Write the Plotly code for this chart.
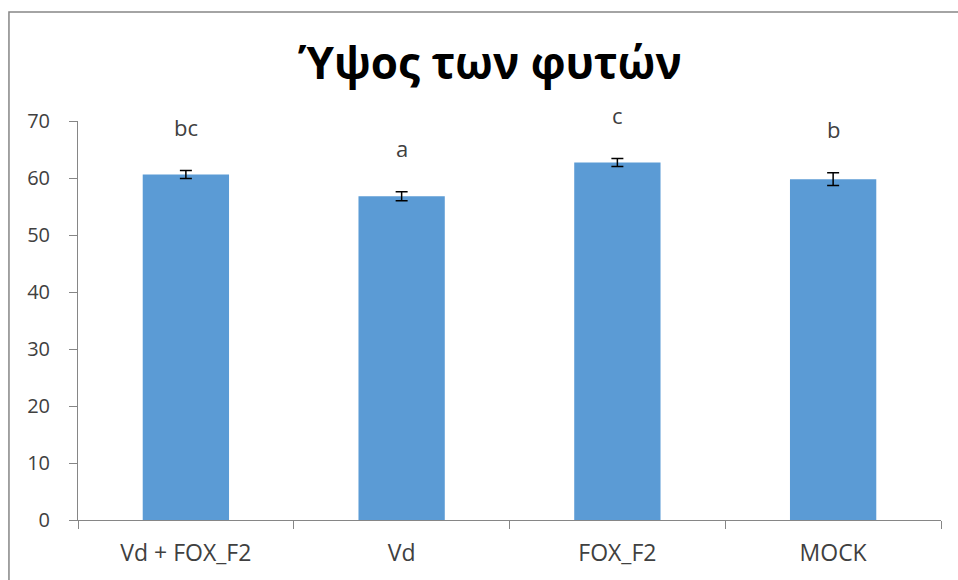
import plotly.graph_objects as go

# Plant height per treatment, with standard error and significance groups
categories = ["Vd + FOX_F2", "Vd", "FOX_F2", "MOCK"]
heights = [60.6, 56.8, 62.7, 59.8]
errors = [0.7, 0.8, 0.7, 1.1]
groups = ["bc", "a", "c", "b"]
y_ticks = [0, 10, 20, 30, 40, 50, 60, 70]

FONT = "Open Sans"
BAR_COLOR = "#5B9BD5"
AXIS_COLOR = "#868686"
TEXT_COLOR = "#404040"

fig = go.Figure(
    go.Bar(
        x=categories,
        y=heights,
        marker=dict(color=BAR_COLOR, line=dict(width=0)),
        error_y=dict(type="data", array=errors, visible=True,
                     color="#000000", thickness=1.5, width=6),
        width=0.4,
        hoverinfo="x+y",
    )
)

# significance letters above each error bar
for cat, h, e, g in zip(categories, heights, errors, groups):
    fig.add_annotation(
        x=cat, y=h + e, text=g, showarrow=False,
        xref="x", yref="y", yanchor="middle", yshift=44,
        font=dict(family=FONT, size=22, color=TEXT_COLOR),
    )

# outer chart frame
fig.add_shape(
    type="rect", xref="paper", yref="paper",
    x0=-0.080, x1=1.06, y0=-0.3, y1=1.273,
    line=dict(color=AXIS_COLOR, width=1.5), fillcolor="rgba(0,0,0,0)",
    layer="below",
)

fig.update_layout(
    width=958,
    height=580,
    margin=dict(l=78, r=17, t=121, b=58),
    paper_bgcolor="white",
    plot_bgcolor="white",
    showlegend=False,
    title=dict(
        text="<b>Ύψος των φυτών</b>",
        x=490 / 958, xanchor="center",
        y=1 - 64 / 580, yanchor="middle",
        font=dict(family=FONT, size=44, color="#000000"),
    ),
    xaxis=dict(
        type="category",
        showline=True, linecolor=AXIS_COLOR, linewidth=1,
        ticks="outside", tickson="boundaries", ticklen=8,
        tickcolor=AXIS_COLOR, tickwidth=1,
        showgrid=False, zeroline=False,
        ticklabelstandoff=12,
        tickfont=dict(family=FONT, size=23, color=TEXT_COLOR),
    ),
    yaxis=dict(
        range=[0, 70],
        tickvals=y_ticks,
        showline=True, linecolor=AXIS_COLOR, linewidth=1,
        ticks="outside", ticklen=8, tickcolor=AXIS_COLOR, tickwidth=1,
        showgrid=False, zeroline=False,
        ticklabelstandoff=15,
        tickfont=dict(family=FONT, size=20, color=TEXT_COLOR),
    ),
)

fig.write_html("out.html")
